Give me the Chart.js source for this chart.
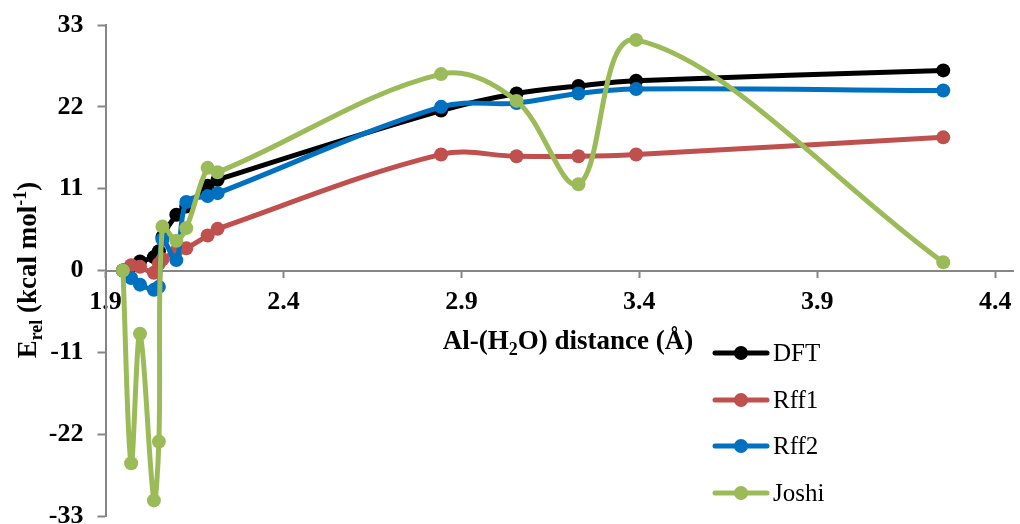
<!DOCTYPE html>
<html>
<head>
<meta charset="utf-8">
<script src="https://cdn.jsdelivr.net/npm/chart.js@4.4.1/dist/chart.umd.min.js"></script>
<style>
  html, body { margin: 0; padding: 0; background: #fff; }
  #wrap { width: 1020px; height: 524px; }
</style>
</head>
<body>
<div id="wrap"><canvas id="energyChart" width="1020" height="524"></canvas></div>
<script>
// Al-(H2O) distance (Angstrom) for each computed point
var distance = [1.949, 1.972, 1.997, 2.036, 2.050, 2.060, 2.099, 2.127, 2.187, 2.215, 2.843, 3.055, 3.229, 3.391, 4.254];

// relative energies, kcal/mol
var dft   = [0, 0.6, 1.2, 1.8, 2.6, 4.5, 7.5, 8.6, 11.4, 12.2, 21.5, 23.8, 24.8, 25.5, 26.9];
var rff1  = [0, 0.7, 0.5, -0.3, 0.9, 1.5, 2.6, 3.0, 4.7, 5.6, 15.6, 15.35, 15.35, 15.6, 17.9];
var rff2  = [0, -1.0, -1.9, -2.6, -2.2, 4.2, 1.4, 9.2, 10.0, 10.4, 22.0, 22.5, 23.8, 24.4, 24.2];
var joshi = [0, -25.9, -8.5, -30.9, -23.0, 5.9, 4.0, 5.7, 13.8, 13.2, 26.4, 22.8, 11.6, 31.0, 1.1];

var seriesNames = ['DFT', 'Rff1', 'Rff2', 'Joshi'];
var seriesColors = ['#000000', '#C0504D', '#0070C0', '#9BBB59'];

var xTicks = [1.9, 2.4, 2.9, 3.4, 3.9, 4.4];
var yTicks = [-33, -22, -11, 0, 11, 22, 33];

var serif = '"Liberation Serif", "Times New Roman", serif';
var axisGray = '#868686';

function toPoints(ys) {
    return ys.map(function (y, i) { return { x: distance[i], y: y }; });
}

var allSeries = [dft, rff1, rff2, joshi];
var datasets = allSeries.map(function (ys, i) {
    return {
        label: seriesNames[i],
        data: toPoints(ys),
        borderColor: seriesColors[i],
        backgroundColor: seriesColors[i],
        borderWidth: 5,
        pointRadius: 7,
        pointHoverRadius: 7,
        pointBorderWidth: 0,
        tension: 0.35,
        showLine: true,
        order: 4 - i   // Joshi drawn last, on top
    };
});

// axis titles and legend drawn by hand (sub/superscripts)
var decorations = {
    id: 'decorations',
    afterDraw: function (chart) {
        var c = chart.ctx;
        c.save();
        c.fillStyle = '#000';
        c.textBaseline = 'alphabetic';

        // x title: Al-(H2O) distance (Å)
        var big = 'bold 27px ' + serif, small = 'bold 18px ' + serif;
        var parts = [['Al-(H', big, 0], ['2', small, 6], ['O) distance (Å)', big, 0]];
        var w = 0;
        parts.forEach(function (p) { c.font = p[1]; w += c.measureText(p[0]).width; });
        var x = 568 - w / 2, base = 349;
        parts.forEach(function (p) {
            c.font = p[1];
            c.fillText(p[0], x, base + p[2]);
            x += c.measureText(p[0]).width;
        });

        // y title: E_rel (kcal mol^-1)
        var yparts = [['E', big, 0], ['rel', small, 6], [' (kcal mol', big, 0], ['-1', small, -10], [')', big, 0]];
        w = 0;
        yparts.forEach(function (p) { c.font = p[1]; w += c.measureText(p[0]).width; });
        c.translate(36, 270);
        c.rotate(-Math.PI / 2);
        x = -w / 2;
        yparts.forEach(function (p) {
            c.font = p[1];
            c.fillText(p[0], x, p[2]);
            x += c.measureText(p[0]).width;
        });
        c.restore();

        // legend
        c.save();
        var rows = [353, 400, 446, 493];
        c.font = '25px ' + serif;
        c.textBaseline = 'middle';
        seriesNames.forEach(function (name, i) {
            c.strokeStyle = seriesColors[i];
            c.fillStyle = seriesColors[i];
            c.lineWidth = 5;
            c.lineCap = 'round';
            c.beginPath();
            c.moveTo(715, rows[i]);
            c.lineTo(767, rows[i]);
            c.stroke();
            c.beginPath();
            c.arc(741, rows[i], 7, 0, Math.PI * 2);
            c.fill();
            c.fillStyle = '#000';
            c.fillText(name, 773, rows[i] + 1);
        });
        c.restore();
    }
};

var ctx = document.getElementById('energyChart').getContext('2d');
var energyChart = new Chart(ctx, {
    type: 'scatter',
    data: { datasets: datasets },
    options: {
        responsive: false,
        animation: false,
        layout: { padding: { left: 0, right: 0, top: 25, bottom: 8 } },
        plugins: {
            legend: { display: false },
            tooltip: { enabled: false }
        },
        scales: {
            x: {
                type: 'linear',
                position: { y: 0 },
                min: 1.9,
                max: 4.45,
                afterBuildTicks: function (scale) {
                    scale.ticks = xTicks.map(function (v) { return { value: v }; });
                },
                // axis sits on y = 0, so it should not take room at the bottom
                afterFit: function (scale) {
                    scale.height = 0;
                    scale.paddingLeft = 0;
                    scale.paddingRight = 0;
                },
                grid: { drawOnChartArea: false, drawTicks: true, tickLength: 6, color: axisGray, tickWidth: 2 },
                border: { color: axisGray, width: 2 },
                ticks: {
                    color: '#000',
                    padding: 10,
                    maxRotation: 0,
                    font: { family: serif, size: 26, weight: 'bold' },
                    callback: function (v) { return v.toFixed(1); }
                }
            },
            y: {
                type: 'linear',
                min: -33,
                max: 33,
                afterBuildTicks: function (scale) {
                    scale.ticks = yTicks.map(function (v) { return { value: v }; });
                },
                afterFit: function (scale) {
                    scale.width = 105.5;
                    scale.paddingTop = 0;
                    scale.paddingBottom = 0;
                },
                grid: { drawOnChartArea: false, drawTicks: true, tickLength: 8, color: axisGray, tickWidth: 2 },
                border: { color: axisGray, width: 2 },
                ticks: {
                    color: '#000',
                    padding: 14,
                    font: { family: serif, size: 26, weight: 'bold' }
                }
            }
        }
    },
    plugins: [decorations]
});
</script>
</body>
</html>
